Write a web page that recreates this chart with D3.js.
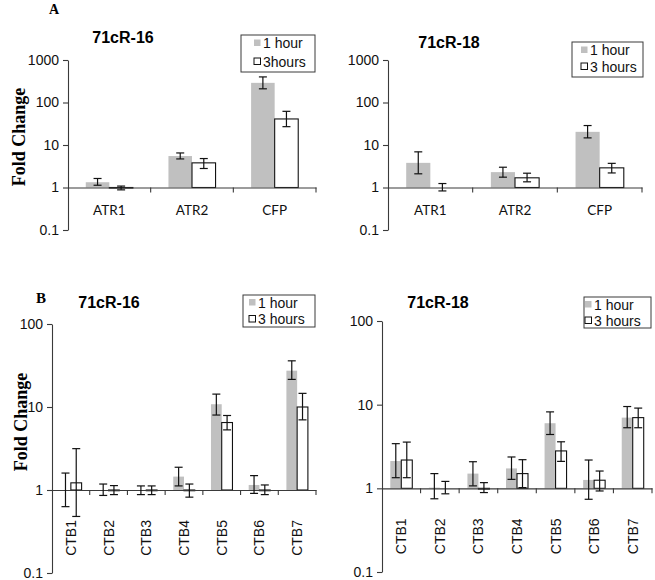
<!DOCTYPE html>
<html>
<head>
<meta charset="utf-8">
<script src="https://cdn.jsdelivr.net/npm/d3@7"></script>
<style>
  html, body { margin: 0; padding: 0; background: #fff; }
  svg { display: block; }
</style>
</head>
<body>
<svg id="chart" width="655" height="580"></svg>
<script>
// ---------- DATA ----------
const catsA = ["ATR1", "ATR2", "CFP"];
const catsB = ["CTB1", "CTB2", "CTB3", "CTB4", "CTB5", "CTB6", "CTB7"];
const yTicksA = [0.1, 1, 10, 100, 1000];
const yTicksB = [0.1, 1, 10, 100];
const legendA16 = ["1 hour", "3hours"];
const legendOther = ["1 hour", "3 hours"];

// Panel A, 71cR-16
const a16Hour1   = [1.33, 5.5, 290];
const a16Hour1Hi = [1.63, 6.5, 400];
const a16Hour1Lo = [1.13, 4.7, 210];
const a16Hour3   = [0.97, 3.8, 41];
const a16Hour3Hi = [1.08, 4.8, 62];
const a16Hour3Lo = [0.88, 2.8, 27];

// Panel A, 71cR-18
const a18Hour1   = [3.8, 2.3, 20.4];
const a18Hour1Hi = [6.9, 3.0, 28.7];
const a18Hour1Lo = [2.1, 1.75, 14.7];
const a18Hour3   = [1.0, 1.69, 2.9];
const a18Hour3Hi = [1.24, 2.17, 3.7];
const a18Hour3Lo = [0.83, 1.36, 2.2];

// Panel B, 71cR-16
const b16Hour1   = [0.98, 1.0, 0.98, 1.45, 10.8, 1.15, 27.4];
const b16Hour1Hi = [1.6, 1.18, 1.12, 1.88, 14.3, 1.49, 36];
const b16Hour1Lo = [0.63, 0.86, 0.88, 1.12, 8.0, 0.91, 21.5];
const b16Hour3   = [1.22, 0.98, 0.98, 0.98, 6.5, 0.98, 10];
const b16Hour3Hi = [3.15, 1.13, 1.12, 1.18, 7.9, 1.15, 14.6];
const b16Hour3Lo = [0.48, 0.88, 0.88, 0.82, 5.3, 0.88, 7.0];

// Panel B, 71cR-18
const b18Hour1   = [2.12, 1.02, 1.5, 1.73, 6.0, 1.26, 7.0];
const b18Hour1Hi = [3.42, 1.5, 2.08, 2.37, 8.2, 2.18, 9.5];
const b18Hour1Lo = [1.34, 0.75, 1.07, 1.28, 4.4, 0.74, 5.3];
const b18Hour3   = [2.18, 1.0, 0.98, 1.5, 2.8, 1.25, 7.0];
const b18Hour3Hi = [3.57, 1.21, 1.17, 2.2, 3.6, 1.61, 9.1];
const b18Hour3Lo = [1.34, 0.86, 0.89, 1.02, 2.1, 0.93, 5.3];

// ---------- STYLE ----------
const GRAY = "#c0c0c0";
const AXIS = "#3a3a3a";
const SANS = "'Liberation Sans', Arial, sans-serif";
const SERIF = "'Liberation Serif', 'Times New Roman', serif";
const CAT_FONT = "Lato, 'Open Sans', sans-serif";

const svg = d3.select("#chart");

function drawPanel(cfg) {
  const y = d3.scaleLog().domain([cfg.yTicks[0], cfg.yTicks[cfg.yTicks.length - 1]])
    .range([cfg.yBot, cfg.yTop]);
  const x = d3.scaleBand().domain(cfg.cats).range([cfg.x0, cfg.x1]);
  const groupW = x.bandwidth() * 0.57;
  const xs = d3.scaleBand().domain([0, 1]).range([0, groupW]);
  const g = svg.append("g");
  const y1 = y(1);

  // bars
  cfg.series.forEach((s, si) => {
    g.append("g").selectAll("rect").data(cfg.cats).join("rect")
      .attr("x", (c) => x(c) + (x.bandwidth() - groupW) / 2 + xs(si))
      .attr("width", xs.bandwidth())
      .attr("y", (c, i) => Math.min(y(s.vals[i]), y1))
      .attr("height", (c, i) => Math.abs(y(s.vals[i]) - y1))
      .attr("fill", s.fill)
      .attr("stroke", s.stroke)
      .attr("stroke-width", s.stroke === "none" ? 0 : 1.1);
  });

  // x axis (line at value 1)
  const xAxis = d3.axisBottom(x).tickSizeInner(0).tickSizeOuter(0)
    .tickPadding(cfg.rotate ? 30 : 18);
  const gx = g.append("g").attr("transform", `translate(0,${y1})`).call(xAxis);
  gx.select(".domain").attr("stroke", AXIS).attr("stroke-width", 1.1);
  if (cfg.rotate) {
    gx.selectAll("text")
      .attr("transform", "rotate(-90)")
      .attr("text-anchor", "end")
      .attr("x", -30).attr("y", 0).attr("dy", "0.36em")
      .attr("font-family", SANS).attr("font-size", 14).attr("fill", "#111");
  } else {
    gx.selectAll("text").attr("font-family", CAT_FONT).attr("font-size", 13.5).attr("fill", "#111");
  }
  // category boundary ticks
  gx.selectAll(".bound").data(cfg.cats).join("line")
    .attr("class", "bound")
    .attr("x1", (c) => x(c) + x.bandwidth()).attr("x2", (c) => x(c) + x.bandwidth())
    .attr("y1", 0).attr("y2", 5)
    .attr("stroke", AXIS).attr("stroke-width", 1.1);

  // error bars
  cfg.series.forEach((s, si) => {
    const cx = (i) => x(cfg.cats[i]) + (x.bandwidth() - groupW) / 2 + xs(si) + xs.bandwidth() / 2;
    const eg = g.append("g").attr("stroke", "#111").attr("stroke-width", 1.2);
    cfg.cats.forEach((c, i) => {
      eg.append("line").attr("x1", cx(i)).attr("x2", cx(i))
        .attr("y1", y(s.hi[i])).attr("y2", y(s.lo[i]));
      [s.hi[i], s.lo[i]].forEach((v) => {
        eg.append("line").attr("x1", cx(i) - cfg.cap / 2).attr("x2", cx(i) + cfg.cap / 2)
          .attr("y1", y(v)).attr("y2", y(v));
      });
    });
  });

  // y axis
  const yAxis = d3.axisLeft(y).tickValues(cfg.yTicks)
    .tickFormat((d) => d3.format("~g")(d)).tickSizeInner(5).tickSizeOuter(0).tickPadding(4);
  const gy = g.append("g").attr("transform", `translate(${cfg.x0},0)`).call(yAxis);
  gy.select(".domain").attr("stroke", AXIS).attr("stroke-width", 1.1);
  gy.selectAll(".tick line").attr("stroke", AXIS).attr("stroke-width", 1.1);
  gy.selectAll("text").attr("font-family", SANS).attr("font-size", 14).attr("fill", "#111");

  // title
  g.append("text").attr("x", cfg.titleX).attr("y", cfg.titleY)
    .attr("text-anchor", "middle").attr("font-family", SANS)
    .attr("font-weight", "bold").attr("font-size", 16).text(cfg.title);

  // legend
  const L = cfg.legend;
  g.append("rect").attr("x", L.x).attr("y", L.y).attr("width", L.w).attr("height", L.h)
    .attr("fill", "#fff").attr("stroke", AXIS).attr("stroke-width", 1);
  cfg.series.forEach((s, si) => {
    const by = L.y + L.first + si * L.step;
    g.append("rect").attr("x", L.tx - 9).attr("y", by - 8.5).attr("width", 6.5).attr("height", 6.5)
      .attr("fill", s.fill).attr("stroke", s.stroke === "none" ? "none" : "#111").attr("stroke-width", 1);
    g.append("text").attr("x", L.tx).attr("y", by)
      .attr("font-family", SANS).attr("font-size", 14).attr("fill", "#111").text(cfg.legendLabels[si]);
  });
}

function mk(v1, h1, l1, v3, h3, l3) {
  return [
    { vals: v1, hi: h1, lo: l1, fill: GRAY, stroke: "none" },
    { vals: v3, hi: h3, lo: l3, fill: "#fff", stroke: "#111" }
  ];
}

drawPanel({
  cats: catsA, yTicks: yTicksA, x0: 68, x1: 316, yTop: 60, yBot: 230, cap: 8,
  title: "71cR-16", titleX: 123, titleY: 43,
  legend: { x: 241, y: 35, w: 74, h: 37, tx: 263, first: 13, step: 18.5 },
  legendLabels: legendA16,
  series: mk(a16Hour1, a16Hour1Hi, a16Hour1Lo, a16Hour3, a16Hour3Hi, a16Hour3Lo)
});
drawPanel({
  cats: catsA, yTicks: yTicksA, x0: 388, x1: 642, yTop: 60, yBot: 230, cap: 8,
  title: "71cR-18", titleX: 449, titleY: 48,
  legend: { x: 572, y: 42, w: 71, h: 35, tx: 590, first: 13, step: 16.5 },
  legendLabels: legendOther,
  series: mk(a18Hour1, a18Hour1Hi, a18Hour1Lo, a18Hour3, a18Hour3Hi, a18Hour3Lo)
});
drawPanel({
  cats: catsB, yTicks: yTicksB, x0: 52, x1: 316, yTop: 324, yBot: 573, cap: 8, rotate: true,
  title: "71cR-16", titleX: 109, titleY: 308,
  legend: { x: 243, y: 295, w: 72, h: 32, tx: 258, first: 12.5, step: 16.5 },
  legendLabels: legendOther,
  series: mk(b16Hour1, b16Hour1Hi, b16Hour1Lo, b16Hour3, b16Hour3Hi, b16Hour3Lo)
});
drawPanel({
  cats: catsB, yTicks: yTicksB, x0: 382, x1: 652, yTop: 321, yBot: 572, cap: 8, rotate: true,
  title: "71cR-18", titleX: 438, titleY: 308,
  legend: { x: 584, y: 297, w: 67, h: 31, tx: 594, first: 12.5, step: 16 },
  legendLabels: legendOther,
  series: mk(b18Hour1, b18Hour1Hi, b18Hour1Lo, b18Hour3, b18Hour3Hi, b18Hour3Lo)
});

// panel letters and y-axis labels
svg.append("text").attr("x", 54).attr("y", 14).attr("text-anchor", "middle")
  .attr("font-family", SERIF).attr("font-weight", "bold").attr("font-size", 14).text("A");
svg.append("text").attr("x", 41).attr("y", 303).attr("text-anchor", "middle")
  .attr("font-family", SERIF).attr("font-weight", "bold").attr("font-size", 15).text("B");
svg.append("text").attr("transform", "translate(25,137) rotate(-90)").attr("text-anchor", "middle")
  .attr("font-family", SERIF).attr("font-weight", "bold").attr("font-size", 18).text("Fold Change");
svg.append("text").attr("transform", "translate(27,422) rotate(-90)").attr("text-anchor", "middle")
  .attr("font-family", SERIF).attr("font-weight", "bold").attr("font-size", 18).text("Fold Change");
</script>
</body>
</html>
